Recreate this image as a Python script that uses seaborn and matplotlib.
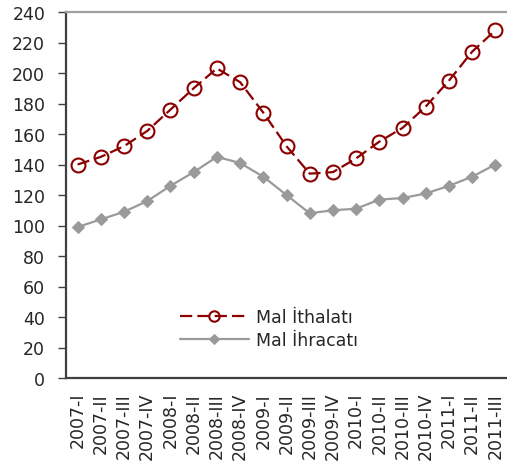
import seaborn as sns
import pandas as pd
import matplotlib
matplotlib.use("Agg")
import matplotlib.pyplot as plt

quarters = ["2007-I", "2007-II", "2007-III", "2007-IV",
            "2008-I", "2008-II", "2008-III", "2008-IV",
            "2009-I", "2009-II", "2009-III", "2009-IV",
            "2010-I", "2010-II", "2010-III", "2010-IV",
            "2011-I", "2011-II", "2011-III"]
ithalat = [140, 145, 152, 162, 176, 190, 203, 194, 174, 152, 134, 135,
           144, 155, 164, 178, 195, 214, 228]
ihracat = [99, 104, 109, 116, 126, 135, 145, 141, 132, 120, 108, 110,
           111, 117, 118, 121, 126, 132, 140]

df = pd.DataFrame({"Donem": quarters, "Mal İthalatı": ithalat, "Mal İhracatı": ihracat})

sns.set_style("white")
plt.rcParams["font.family"] = ["DejaVu Sans"]

fig = plt.figure(figsize=(5.07, 4.64), dpi=100)
ax = fig.add_axes([66 / 507, 85 / 464, 441 / 507, 366 / 464])

sns.lineplot(data=df, x="Donem", y="Mal İthalatı", ax=ax, color="#8B0000",
             linewidth=1.6, linestyle=(0, (5.5, 2.3)), marker="o", markersize=10,
             markerfacecolor="none", markeredgecolor="#8B0000", markeredgewidth=1.5,
             label="Mal İthalatı")
sns.lineplot(data=df, x="Donem", y="Mal İhracatı", ax=ax, color="#9A9A9A",
             linewidth=1.6, marker="D", markersize=6.5, markeredgecolor="#9A9A9A",
             label="Mal İhracatı")

ax.set_xlim(-0.5, len(quarters) - 0.5)
ax.set_ylim(0, 240)
ax.set_yticks(range(0, 241, 20))
ax.set(xlabel=None, ylabel=None)
ax.tick_params(axis="y", length=6, width=1, color="#404040", pad=9, labelsize=12.5,
               direction="out", left=True)
ax.tick_params(axis="x", length=0, pad=10, labelsize=12.5, rotation=90)

for side in ["left", "bottom"]:
    ax.spines[side].set_color("#404040")
    ax.spines[side].set_linewidth(1.6)
ax.spines["top"].set_color("#A0A0A0")
ax.spines["top"].set_linewidth(1.6)
ax.spines["right"].set_visible(False)

ax.legend(loc="center", bbox_to_anchor=(0.46, 0.135), frameon=False, fontsize=12.5,
          handlelength=4, handletextpad=0.4, labelspacing=0.25, markerscale=0.75)

fig.savefig("out.png", dpi=100)
